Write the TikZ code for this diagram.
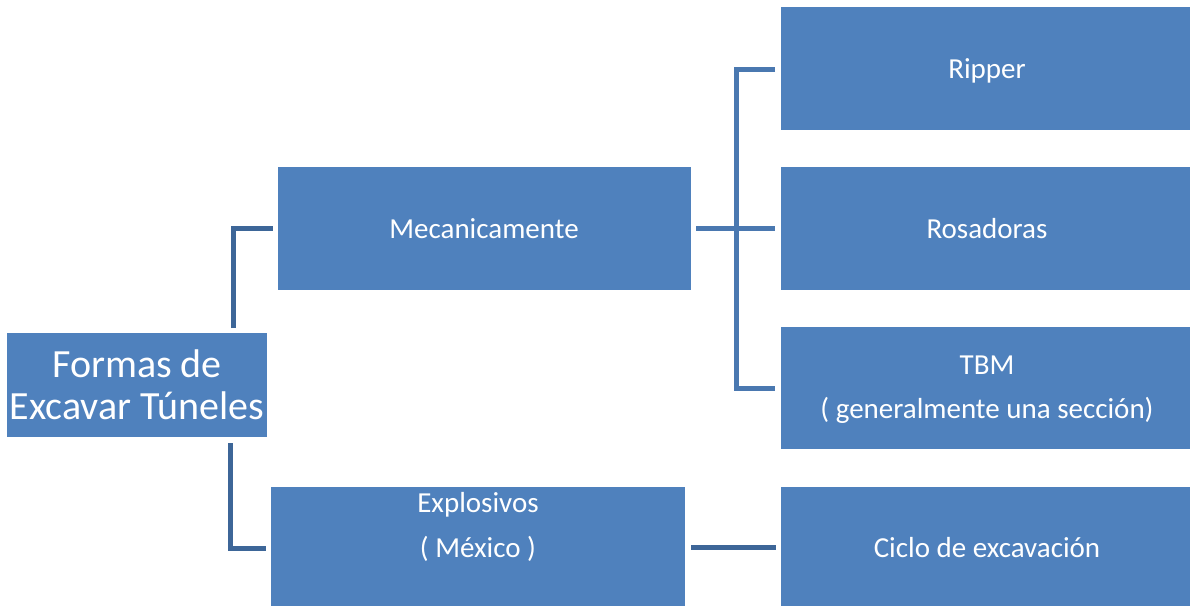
\documentclass[tikz,border=0pt]{standalone}
\usepackage{fontspec}
\setmainfont{Carlito}
\definecolor{boxfill}{HTML}{4F81BD}
\definecolor{connA}{HTML}{3D6698}
\definecolor{connB}{HTML}{4A78B0}
\begin{document}
\begin{tikzpicture}[x=1pt,y=-1pt,
  box/.style={fill=boxfill,draw=none,inner sep=0pt,anchor=north west},
  txt/.style={text=white,anchor=base,inner sep=0pt,font=\fontsize{29}{29}\selectfont},
  bigtxt/.style={text=white,anchor=base,inner sep=0pt,font=\fontsize{40}{40}\selectfont},
  conn/.style={line width=5pt},
  connL/.style={conn,draw=connA},
  connR/.style={conn,draw=connB}]
\useasboundingbox (0,0) rectangle (1190,606);
% boxes
\node[box,minimum width=260pt,minimum height=104pt] (root) at (7,333) {};
\node[box,minimum width=413pt,minimum height=123pt] (meca) at (278,167) {};
\node[box,minimum width=414pt,minimum height=119pt] (expl) at (271,487) {};
\node[box,minimum width=409pt,minimum height=123pt] (ripper) at (781,7) {};
\node[box,minimum width=409pt,minimum height=123pt] (rosa) at (781,167) {};
\node[box,minimum width=409pt,minimum height=122pt] (tbm) at (781,327) {};
\node[box,minimum width=409pt,minimum height=119pt] (ciclo) at (781,487) {};
% texts
\node[bigtxt] (t1a) at (137,377) {Formas de};
\node[bigtxt] (t1b) at (137,419) {Excavar Túneles};
\node[txt] (t2) at (484,238) {Mecanicamente};
\node[txt] (t3) at (987,78) {Ripper};
\node[txt] (t4) at (987,238) {Rosadoras};
\node[txt] (t5a) at (987,374) {TBM};
\node[txt] (t5b) at (987,418) {( generalmente una sección)};
\node[txt] (t6a) at (478,512) {Explosivos};
\node[txt] (t6b) at (478,557) {( México )};
\node[txt] (t7) at (987,557) {Ciclo de excavación};
% connector points
\coordinate (ru) at (233,328);
\coordinate (rm) at (273,228);
\coordinate (rd) at (230,443);
\coordinate (re) at (266,548);
\coordinate (ms) at (696,228);
\coordinate (bx) at (736,228);
\coordinate (s1) at (775,69);
\coordinate (s2) at (775,228);
\coordinate (s3) at (775,388);
\coordinate (es) at (691,547);
\coordinate (ce) at (776,547);
% connectors
\draw[connL] (ru) |- (rm);
\draw[connL] (rd) |- (re);
\draw[connR] (ms) -- (s2);
\draw[connR] (s1) -| (bx |- s3) -- (s3);
\draw[connL] (es) -- (ce);
\end{tikzpicture}
\end{document}
